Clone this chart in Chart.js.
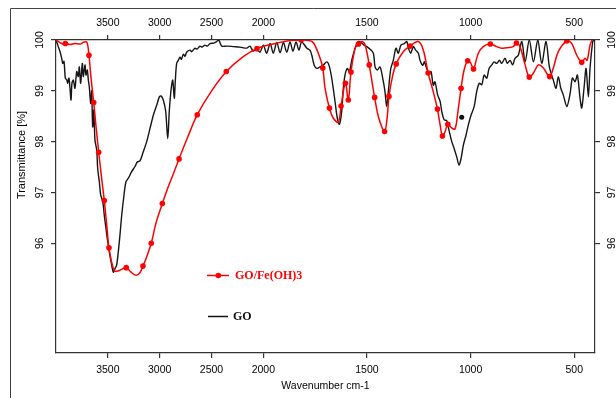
<!DOCTYPE html>
<html><head><meta charset="utf-8">
<script src="https://cdn.jsdelivr.net/npm/chart.js"></script>
<style>html,body{margin:0;padding:0;background:#fff;}canvas{display:block;}</style>
</head><body>
<canvas id="c" width="616" height="398"></canvas>
<script>
const xTickLabels = [3500, 3000, 2500, 2000, 1500, 1000, 500];
const yTickLabels = [96, 97, 98, 99, 100];

const goWavenumber = [4000,3978,3961,3945,3935,3923,3910,3897,3887,3875,3865,3855,3846,3833,3817,3800,3785,3775,3762,3746,3737,3720,3711,3698,3688,3679,3665,3656,3646,3636,3624,3607,3598,3582,3569,3549,3534,3518,3501,3486,3469,3447,3431,3415,3399,3383,3366,3344,3325,3302,3270,3238,3216,3190,3158,3125,3093,3061,3028,3003,2987,2965,2942,2922,2907,2890,2874,2859,2849,2836,2820,2804,2790,2772,2755,2740,2707,2690,2659,2640,2611,2590,2563,2540,2514,2480,2450,2430,2401,2350,2289,2225,2160,2128,2099,2064,2032,2000,1984,1967,1952,1935,1919,1903,1887,1871,1857,1842,1828,1815,1790,1775,1766,1755,1742,1726,1710,1694,1683,1670,1654,1643,1633,1622,1614,1606,1595,1585,1573,1557,1542,1525,1514,1501,1485,1469,1461,1450,1437,1424,1413,1405,1397,1385,1373,1360,1349,1336,1320,1308,1300,1289,1276,1265,1252,1244,1231,1223,1212,1199,1191,1180,1172,1159,1147,1139,1128,1115,1103,1091,1080,1067,1056,1046,1035,1022,1011,998,983,970,958,946,935,922,911,898,887,874,861,850,834,823,810,797,786,770,753,737,717,697,676,657,636,620,601,588,577,565,553,536,520,509,496,485,472,464,453,443,432,424,411,404];
const goTransmittance = [100,99.87,99.77,99.64,99.54,99.58,99.25,99.22,99.15,99.25,99.05,98.82,99.15,99.21,99.05,99.38,99.28,99.47,99.15,99.54,99.28,99.51,99.31,99.41,99.21,99.08,98.75,99.0,98.29,98.62,98.03,97.83,97.47,97.21,96.95,96.82,96.55,96.29,96.03,95.83,95.64,95.43,95.50,95.57,95.83,96.16,96.55,96.95,97.21,97.28,97.41,97.51,97.60,97.62,97.80,98.0,98.26,98.52,98.72,98.88,98.90,98.82,98.6,98.06,98.6,99.02,99.21,98.85,99.2,99.54,99.6,99.66,99.62,99.72,99.68,99.76,99.8,99.77,99.84,99.82,99.88,99.86,99.9,99.88,99.93,99.94,99.97,100,99.88,99.88,99.87,99.86,99.84,99.88,99.78,99.82,99.76,99.9,99.74,99.93,99.74,99.95,99.75,99.95,99.76,99.96,99.78,99.96,99.8,99.96,99.84,99.8,99.7,99.51,99.44,99.47,99.51,99.57,99.5,99.25,98.79,98.46,98.34,98.59,99.05,99.31,99.44,99.38,99.61,99.84,99.97,99.94,99.9,99.87,99.82,99.74,99.47,99.41,99.47,99.25,98.98,98.69,98.98,99.44,99.6,99.84,99.74,99.9,99.93,99.97,99.84,99.74,99.87,99.8,99.74,99.6,99.5,99.57,99.44,99.34,99.38,99.11,99.18,98.92,98.79,98.59,98.43,98.41,98.2,98.0,97.87,97.70,97.54,97.67,97.93,98.13,98.33,98.52,98.69,99.0,99.15,99.12,99.31,99.25,99.44,99.51,99.57,99.54,99.6,99.54,99.64,99.54,99.6,99.51,99.64,99.7,99.97,99.57,100,99.57,100,99.54,99.97,99.47,99.21,99.05,99.28,99.05,98.92,98.69,98.95,99.25,99.18,99.31,98.85,98.66,99.05,99.44,98.88,99.44,99.97,100];

const goMarkerWavenumber = [1043];
const goMarkerTransmittance = [98.48];

const feWavenumber = [4000,3961,3932,3910,3865,3817,3768,3730,3701,3682,3662,3636,3614,3588,3561,3534,3508,3489,3460,3431,3383,3322,3276,3228,3190,3161,3122,3081,3035,2974,2919,2871,2813,2727,2637,2505,2357,2215,2061,1943,1871,1818,1765,1746,1726,1713,1702,1681,1662,1638,1625,1604,1590,1577,1557,1541,1524,1509,1489,1463,1442,1415,1402,1394,1376,1359,1325,1292,1252,1228,1205,1180,1160,1147,1136,1123,1110,1091,1075,1061,1046,1032,1014,1000,986,963,939,905,874,850,818,794,779,762,737,717,697,673,649,619,601,577,536,512,488,464,448,438,424,414];
const feTransmittance = [100,99.95,99.92,99.93,99.91,99.93,99.92,99.96,99.95,99.70,99.25,98.77,98.3,97.79,97.3,96.84,96.3,95.91,95.6,95.45,95.47,95.52,95.43,95.37,95.42,95.55,95.75,96.0,96.4,96.78,97.1,97.35,97.66,98.1,98.53,98.98,99.38,99.64,99.83,99.93,99.99,100,99.97,99.85,99.64,99.45,99.05,98.66,98.46,98.38,98.70,99.15,98.82,99.37,99.84,99.92,99.97,99.9,99.51,98.87,98.45,98.2,98.5,98.89,99.3,99.53,99.77,99.88,99.97,99.8,99.35,98.98,98.64,98.33,98.11,98.2,98.34,98.27,98.25,98.6,99.05,99.4,99.59,99.55,99.43,99.74,99.87,99.92,99.87,99.84,99.85,99.87,99.94,99.87,99.51,99.27,99.35,99.51,99.45,99.28,99.45,99.77,99.98,99.93,99.7,99.56,99.64,99.6,99.9,100];

const feMarkerWavenumber = [3910,3682,3636,3588,3534,3489,3322,3161,3081,2974,2813,2637,2357,2061,1818,1713,1681,1625,1604,1590,1577,1541,1489,1463,1415,1394,1359,1292,1205,1160,1136,1110,1046,1014,986,905,779,717,619,536,464];
const feMarkerTransmittance = [99.93,99.70,98.77,97.79,96.84,95.91,95.52,95.55,96.0,96.78,97.66,98.53,99.38,99.83,100,99.45,98.66,98.70,99.15,98.82,99.37,99.92,99.51,98.87,98.2,98.89,99.53,99.88,99.35,98.64,98.11,98.34,99.05,99.59,99.43,99.92,99.94,99.27,99.28,99.98,99.56];

// wavenumber axis is compressed by a factor 2 above 2000 cm-1
function toAxis(w) { return w <= 2000 ? w : 2000 + (w - 2000) / 2; }
function fromAxis(u) { return u <= 2000 ? u : 2000 + (u - 2000) * 2; }
function pts(xs, ys) { return xs.map((w, i) => ({ x: toAxis(w), y: ys[i] })); }

const tickFont = { family: 'Liberation Sans', size: 10.5 };
const axisColor = '#333';
const textColor = '#000';

function xScale(pos) {
  return {
    type: 'linear', position: pos, reverse: true,
    min: toAxis(400), max: toAxis(4000),
    afterBuildTicks: s => { s.ticks = xTickLabels.map(w => ({ value: toAxis(w) })); },
    ticks: { callback: v => String(Math.round(fromAxis(v))), color: textColor, font: tickFont, padding: 6, maxRotation: 0, minRotation: 0, autoSkip: false },
    grid: { drawOnChartArea: false, drawTicks: true, tickLength: 5, color: axisColor, lineWidth: 1.2 },
    border: { display: true, color: axisColor, width: 1.2 },
    title: pos === 'bottom' ? { display: true, text: 'Wavenumber cm-1', color: textColor, font: { family: 'Liberation Sans', size: 10.5 }, padding: { top: 0, bottom: 5.5 } } : { display: false },
    afterFit: s => { s.height = pos === 'top' ? 40 : 45; }
  };
}
function yScale(pos) {
  return {
    type: 'linear', position: pos, min: 93.84, max: 100,
    afterBuildTicks: s => { s.ticks = yTickLabels.map(v => ({ value: v })); },
    ticks: { callback: v => String(v), color: textColor, font: tickFont, minRotation: 90, maxRotation: 90, crossAlign: 'center', padding: pos === 'left' ? 2.5 : 3.5, autoSkip: false },
    grid: { drawOnChartArea: false, drawTicks: true, tickLength: 5, color: axisColor, lineWidth: 1.2 },
    border: { display: true, color: axisColor, width: 1.2 },
    afterFit: s => { s.width = pos === 'left' ? 56 : 21; }
  };
}

const decor = {
  id: 'decor',
  afterDraw(chart) {
    const ctx = chart.ctx;
    ctx.save();
    ctx.strokeStyle = '#444'; ctx.lineWidth = 1;
    ctx.beginPath(); ctx.moveTo(10.5, 398); ctx.lineTo(10.5, 8.5); ctx.lineTo(616, 8.5); ctx.stroke();
    ctx.save();
    ctx.fillStyle = textColor; ctx.font = '11px "Liberation Sans"';
    ctx.translate(22, 155); ctx.rotate(-Math.PI / 2);
    ctx.textAlign = 'center'; ctx.textBaseline = 'middle';
    ctx.fillText('Transmittance [%]', 0, 0);
    ctx.restore();
    // legend
    ctx.lineWidth = 1.5;
    ctx.strokeStyle = '#ff0000';
    ctx.beginPath(); ctx.moveTo(207, 275.5); ctx.lineTo(229, 275.5); ctx.stroke();
    ctx.fillStyle = '#ff0000';
    ctx.beginPath(); ctx.arc(218.3, 275.5, 2.8, 0, Math.PI * 2); ctx.fill();
    ctx.font = 'bold 12px "Liberation Serif"';
    ctx.textAlign = 'left'; ctx.textBaseline = 'middle';
    ctx.fillText('GO/Fe(OH)3', 235, 276);
    ctx.strokeStyle = '#111'; ctx.fillStyle = '#111';
    ctx.beginPath(); ctx.moveTo(208, 316.5); ctx.lineTo(228, 316.5); ctx.stroke();
    ctx.fillText('GO', 233, 317);
    ctx.restore();
  }
};

new Chart(document.getElementById('c'), {
  type: 'line',
  data: {
    datasets: [
      { label: 'GO/Fe(OH)3 markers', data: pts(feMarkerWavenumber, feMarkerTransmittance), showLine: false, pointRadius: 2.8, pointBackgroundColor: '#ff0000', pointBorderWidth: 0, borderColor: '#ff0000' },
      { label: 'GO/Fe(OH)3', data: pts(feWavenumber, feTransmittance), borderColor: '#ff0000', borderWidth: 1.5, pointRadius: 0, tension: 0.35, fill: false },
      { label: 'GO marker', data: pts(goMarkerWavenumber, goMarkerTransmittance), showLine: false, pointRadius: 2.5, pointBackgroundColor: '#111', pointBorderWidth: 0, borderColor: '#111' },
      { label: 'GO', data: pts(goWavenumber, goTransmittance), borderColor: '#151515', borderWidth: 1.4, pointRadius: 0, tension: 0.3, fill: false }
    ]
  },
  options: {
    responsive: false, animation: false, devicePixelRatio: 1,
    layout: { padding: 0 },
    plugins: { legend: { display: false }, tooltip: { enabled: false } },
    scales: { x: xScale('bottom'), x2: xScale('top'), y: yScale('left'), y2: yScale('right') }
  },
  plugins: [decor]
});
</script>
</body></html>
